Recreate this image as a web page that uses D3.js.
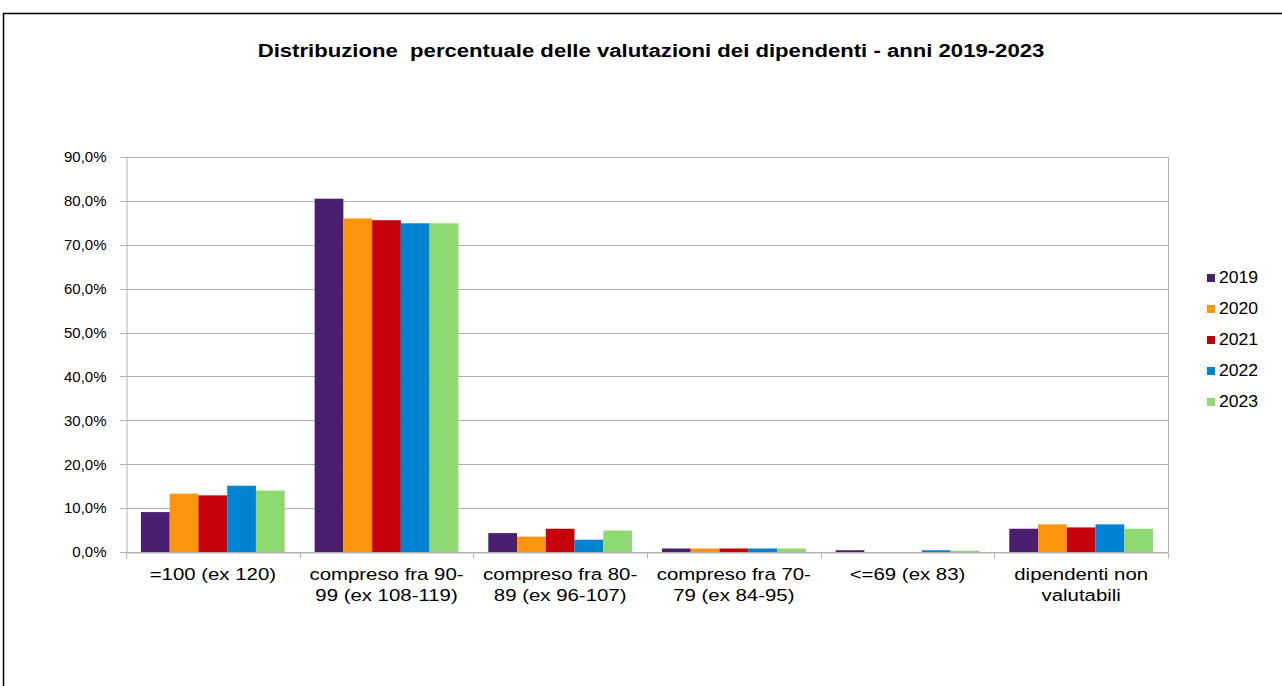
<!DOCTYPE html>
<html>
<head>
<meta charset="utf-8">
<script src="https://cdn.jsdelivr.net/npm/d3@7"></script>
<style>
  body { margin: 0; background: #fff; }
  svg { display: block; font-family: "Liberation Sans", Arial, sans-serif; }
</style>
</head>
<body>
<div id="wrapper"></div>
<script>
const categories = [
  "=100 (ex 120)",
  "compreso fra 90-\n99 (ex 108-119)",
  "compreso fra 80-\n89 (ex 96-107)",
  "compreso fra 70-\n79 (ex 84-95)",
  "<=69 (ex 83)",
  "dipendenti non\nvalutabili"
]
const years = ["2019", "2020", "2021", "2022", "2023"]
const values2019 = [9.1, 80.5, 4.3, 0.8, 0.4, 5.3]
const values2020 = [13.3, 76.0, 3.5, 0.8, 0.0, 6.3]
const values2021 = [12.9, 75.6, 5.3, 0.8, 0.0, 5.6]
const values2022 = [15.1, 74.9, 2.8, 0.8, 0.4, 6.3]
const values2023 = [14.0, 74.9, 4.9, 0.8, 0.3, 5.3]
const yTicks = [0, 10, 20, 30, 40, 50, 60, 70, 80, 90]
const colors = ["#4b1f6f", "#ff950e", "#c5000b", "#0084d1", "#8fd973"]
const title = "Distribuzione  percentuale delle valutazioni dei dipendenti - anni 2019-2023"

const series = [values2019, values2020, values2021, values2022, values2023]

const dimensions = {
  width: 1282,
  height: 686,
  margin: { top: 157, right: 114, bottom: 134, left: 126 }
}
dimensions.boundedWidth = dimensions.width - dimensions.margin.left - dimensions.margin.right
dimensions.boundedHeight = dimensions.height - dimensions.margin.top - dimensions.margin.bottom

const svg = d3.select("#wrapper")
  .append("svg")
    .attr("width", dimensions.width)
    .attr("height", dimensions.height)

// outer frame
svg.append("rect")
    .attr("x", 3.5)
    .attr("y", 13.5)
    .attr("width", 1400)
    .attr("height", 800)
    .attr("fill", "none")
    .attr("stroke", "#000")
    .attr("stroke-width", 1.5)

// the original text is a bit wider than Liberation Sans, so stretch it horizontally
svg.append("text")
    .attr("transform", "translate(651,57) scale(1.23,1)")
    .attr("text-anchor", "middle")
    .style("white-space", "pre")
    .style("font-weight", "bold")
    .style("font-size", "18px")
    .attr("fill", "#000")
    .text(title)

const bounds = svg.append("g")
    .attr("transform", `translate(${dimensions.margin.left},${dimensions.margin.top})`)

const xScale = d3.scaleBand()
    .domain(categories)
    .range([0, dimensions.boundedWidth])
    .padding(0)

const innerScale = d3.scaleBand()
    .domain(years)
    .range([0, xScale.bandwidth()])
    .paddingInner(0)
    .paddingOuter(0.52)

const yScale = d3.scaleLinear()
    .domain([0, 90])
    .range([dimensions.boundedHeight, 0])

// gridlines
bounds.append("g")
  .selectAll("line")
  .data(yTicks)
  .join("line")
    .attr("x1", -6)
    .attr("x2", dimensions.boundedWidth)
    .attr("y1", d => Math.round(yScale(d)) + 0.5)
    .attr("y2", d => Math.round(yScale(d)) + 0.5)
    .attr("stroke", "#b3b3b3")
    .attr("stroke-width", 1)

// right border of plot area
bounds.append("line")
    .attr("x1", dimensions.boundedWidth + 0.5)
    .attr("x2", dimensions.boundedWidth + 0.5)
    .attr("y1", 0)
    .attr("y2", dimensions.boundedHeight)
    .attr("stroke", "#b3b3b3")

// bars
const groups = bounds.append("g")
  .selectAll("g")
  .data(series)
  .join("g")
    .attr("fill", (d, i) => colors[i])

groups.selectAll("rect")
  .data((d, i) => d.map((v, j) => ({ v, cat: categories[j], year: years[i] })))
  .join("rect")
    .attr("x", d => xScale(d.cat) + innerScale(d.year))
    .attr("width", innerScale.bandwidth())
    .attr("y", d => yScale(d.v))
    .attr("height", d => yScale(0) - yScale(d.v))

// y axis
const yAxisGenerator = d3.axisLeft(yScale)
    .tickValues(yTicks)
    .tickSize(0)
    .tickPadding(20)
    .tickFormat(d => d3.format(".1f")(d).replace(".", ",") + "%")
const yAxis = bounds.append("g")
    .attr("transform", "translate(0.5,0)")
    .call(yAxisGenerator)
yAxis.select(".domain").attr("stroke", "#b3b3b3")
yAxis.selectAll("text")
    .style("font-size", "15px")
    .attr("fill", "#000")
    .attr("font-family", null)

// x axis
const xAxisGenerator = d3.axisBottom(xScale)
    .tickSize(0)
    .tickFormat("")
const xAxis = bounds.append("g")
    .attr("transform", `translate(0,${dimensions.boundedHeight + 0.5})`)
    .call(xAxisGenerator)
xAxis.select(".domain").attr("stroke", "#b3b3b3")

// boundary tick marks between categories
xAxis.append("g")
  .selectAll("line")
  .data(categories.concat([null]))
  .join("line")
    .attr("x1", (d, i) => Math.round(i * xScale.step()) + 0.5)
    .attr("x2", (d, i) => Math.round(i * xScale.step()) + 0.5)
    .attr("y1", 0)
    .attr("y2", 6)
    .attr("stroke", "#b3b3b3")

xAxis.selectAll(".tick text").remove()
xAxis.selectAll(".tick")
  .append("text")
    .attr("transform", "scale(1.2,1)")
    .attr("text-anchor", "middle")
    .attr("fill", "#000")
    .style("font-size", "17px")
  .selectAll("tspan")
  .data(d => d.split("\n"))
  .join("tspan")
    .attr("x", 0)
    .attr("y", (d, i) => 28 + i * 21)
    .text(d => d)

// legend
const legend = svg.append("g")
    .attr("transform", "translate(1207,274)")
const legendItems = legend.selectAll("g")
  .data(years)
  .join("g")
    .attr("transform", (d, i) => `translate(0,${i * 31})`)
legendItems.append("rect")
    .attr("width", 8)
    .attr("height", 8)
    .attr("fill", (d, i) => colors[i])
legendItems.append("text")
    .attr("transform", "translate(12,9) scale(1.1,1)")
    .attr("fill", "#000")
    .style("font-size", "16px")
    .text(d => d)
</script>
</body>
</html>
